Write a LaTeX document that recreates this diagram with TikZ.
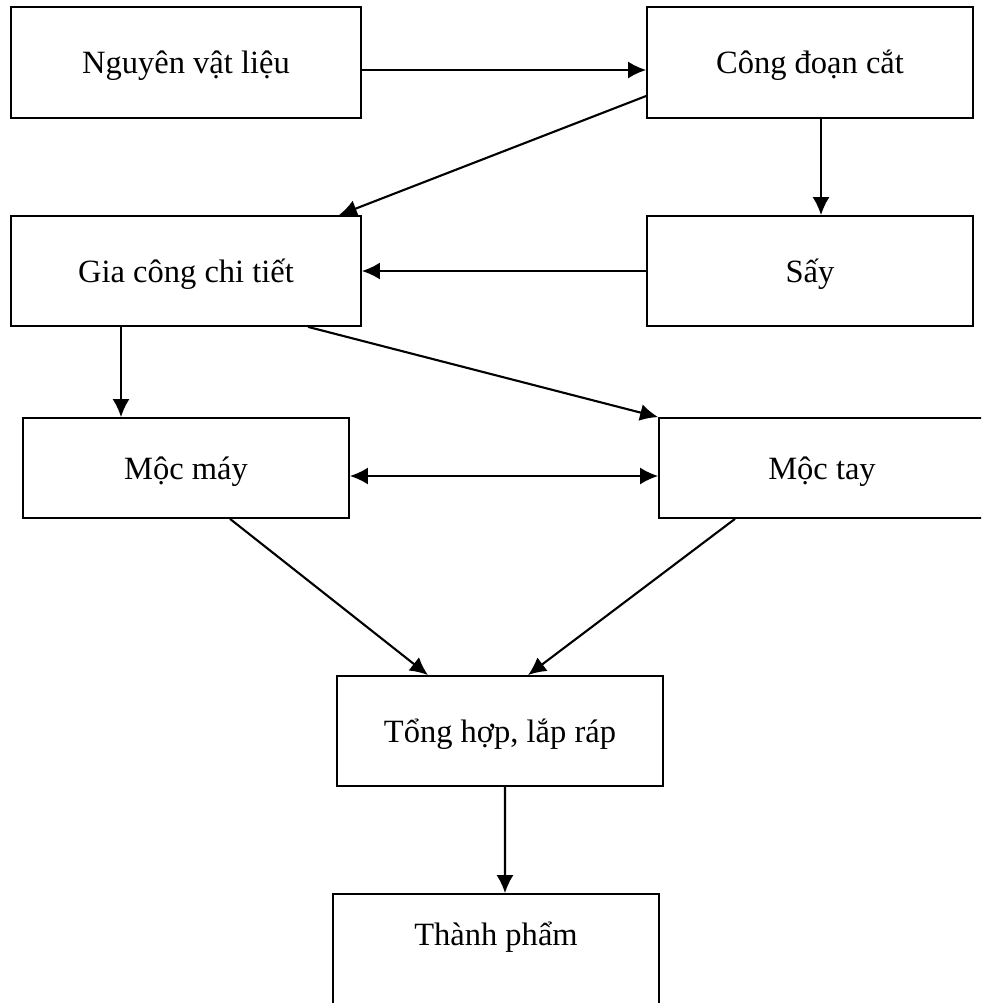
\documentclass[tikz,border=0pt]{standalone}
\usepackage{fontspec}
\setmainfont{Liberation Serif}
\usetikzlibrary{arrows.meta, positioning}

\tikzset{
  stepbox/.style={draw, line width=1pt, minimum width=6.52cm, minimum height=2.2cm,
    text height=1.5em, text depth=0.22em, font=\fontsize{18.5}{20}\selectfont},
  flow/.style={line width=1.2pt, >={Latex[length=0.36cm,width=0.34cm]}}
}

\begin{document}
\begin{tikzpicture}
      \useasboundingbox (0,0) rectangle (19.62,-20.06);
      \clip (0,0) rectangle (19.62,-20.06);

      \node[stepbox, minimum width=7cm, minimum height=2.22cm] (nvl) at (3.72,-1.25) {Nguyên vật liệu};
      \node[stepbox, minimum height=2.22cm] (cdc) at (16.2,-1.25) {Công đoạn cắt};
      \node[stepbox, minimum width=7cm] (gcct) at (3.72,-5.42) {Gia công chi tiết};
      \node[stepbox] (say) at (16.2,-5.42) {Sấy};
      \node[stepbox, minimum height=2cm] (mm) at (3.72,-9.36) {Mộc máy};
      \node[stepbox, minimum height=2cm] (mt) at (16.44,-9.36) {Mộc tay};
      \node[stepbox] (tong) at (10,-14.62) {Tổng hợp, lắp ráp};
      \node[stepbox, minimum height=2.6cm, text height=0.8em, text depth=2.31em]
        (tp) at (9.92,-19.18) {Thành phẩm};

      \draw[flow,->] ([yshift=-0.15cm]nvl.east) -- ([yshift=-0.15cm]cdc.west);
      \draw[flow,->] ([yshift=-0.67cm]cdc.west) -- ([xshift=-0.46cm]gcct.north east);
      \draw[flow,->] ([xshift=0.22cm]cdc.south) -- ([xshift=0.22cm]say.north);
      \draw[flow,->] (say.west) -- (gcct.east);

      \draw[flow,->] ([xshift=-1.3cm]gcct.south) -- ([xshift=-1.3cm]mm.north);
      \draw[flow,->] ([xshift=2.44cm]gcct.south) -- (mt.north west);
      \draw[flow,<->] ([yshift=-0.16cm]mm.east) -- ([yshift=-0.16cm]mt.west);

      \draw[flow,->] ([xshift=0.88cm]mm.south) -- ([xshift=-1.44cm]tong.north);
      \draw[flow,->] ([xshift=-1.74cm]mt.south) -- ([xshift=0.56cm]tong.north);
      \draw[flow,->] ([xshift=0.1cm]tong.south) -- ([xshift=0.18cm]tp.north);

    \end{tikzpicture}
\end{document}
